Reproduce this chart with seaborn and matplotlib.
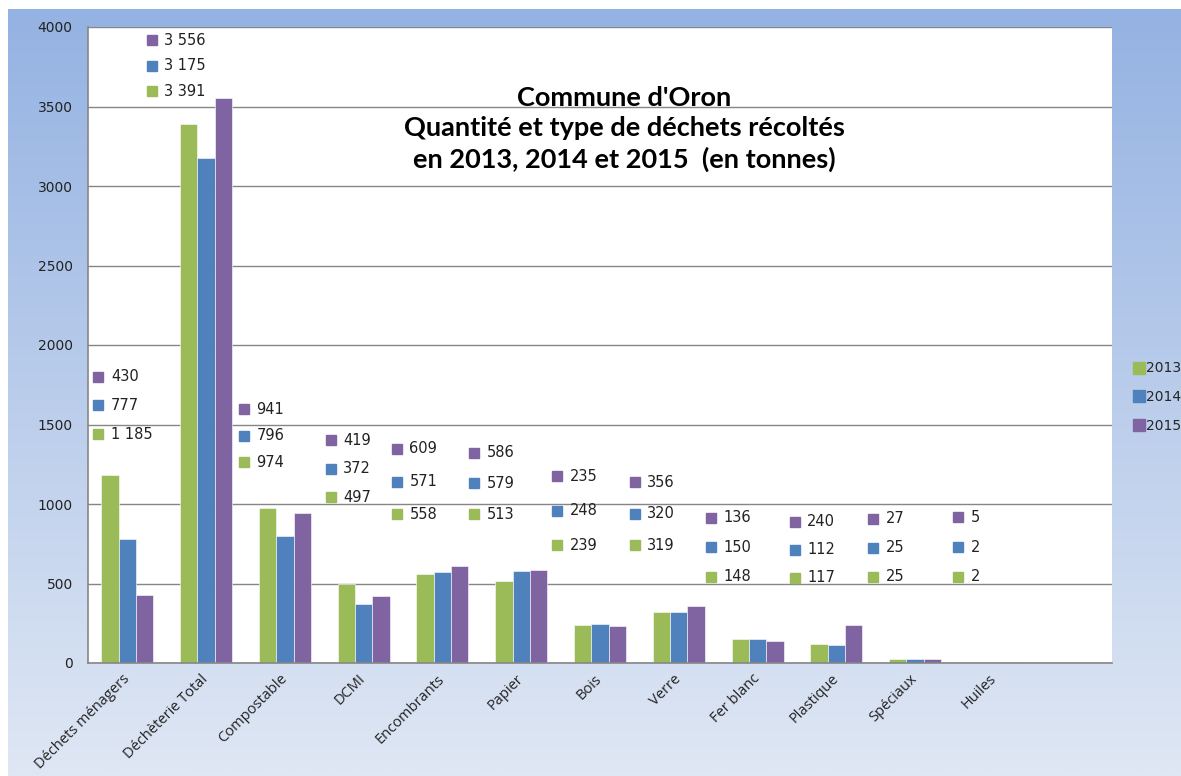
import numpy as np
import pandas as pd
import matplotlib.pyplot as plt
import seaborn as sns
from matplotlib.lines import Line2D

# waste collected per type, in tonnes
categories = ["Déchets ménagers", "Déchèterie Total", "Compostable", "DCMI", "Encombrants",
              "Papier", "Bois", "Verre", "Fer blanc", "Plastique", "Spéciaux", "Huiles"]
years = ["2013", "2014", "2015"]
t2013 = [1185, 3391, 974, 497, 558, 513, 239, 319, 148, 117, 25, 2]
t2014 = [777, 3175, 796, 372, 571, 579, 248, 320, 150, 112, 25, 2]
t2015 = [430, 3556, 941, 419, 609, 586, 235, 356, 136, 240, 27, 5]
yticks = [0, 500, 1000, 1500, 2000, 2500, 3000, 3500, 4000]

# where the value boxes sit (they were moved by hand in the original)
label_dx = [-0.37, -0.69, -0.52, -0.42, -0.58, -0.60, -0.54, -0.56, -0.59, -0.53, -0.53, -0.45]
label_top = [1799, 3918, 1597, 1402, 1346, 1321, 1176, 1138, 912, 887, 906, 918]
label_bottom = [1440, 3597, 1264, 1044, 937, 937, 742, 742, 541, 535, 541, 541]

colors = {"2013": "#9bbb59", "2014": "#4f81bd", "2015": "#8064a2"}
grey = "#868686"

df = pd.DataFrame({
    "type": categories * 3,
    "year": np.repeat(years, len(categories)),
    "tonnes": t2013 + t2014 + t2015,
})

sns.set_style("white")
plt.rcParams["font.family"] = ["DejaVu Sans"]

fig = plt.figure(figsize=(11.81, 7.76), dpi=100)

# blue gradient background
bg = fig.add_axes([8 / 1181, 0, 1 - 8 / 1181, 1 - 9 / 776], zorder=-1)
top_c = np.array([148, 178, 226]) / 255
bot_c = np.array([223, 231, 244]) / 255
t = np.linspace(0, 1, 256)[:, None]
grad = top_c[None, :] * (1 - t) + bot_c[None, :] * t
bg.imshow(grad[:, None, :], aspect="auto", extent=[0, 1, 0, 1])
bg.axis("off")

ax = fig.add_axes([88 / 1181, 1 - 663 / 776, (1112 - 88) / 1181, (663 - 27) / 776])
ax.set_facecolor("white")
sns.barplot(data=df, x="type", y="tonnes", hue="year", order=categories + [""],
            hue_order=years, palette=colors, saturation=1, width=0.66,
            edgecolor="white", linewidth=0.4, ax=ax)
ax.get_legend().remove()

ax.set_ylim(0, 4000)
ax.set_xlim(-0.5, 12.5)
ax.set_yticks(yticks)
ax.set_yticklabels([str(v) for v in yticks], fontsize=10, color="#222222")
ax.yaxis.grid(True, color=grey, linewidth=1)
ax.set_axisbelow(True)
ax.set_xlabel("")
ax.set_ylabel("")

ax.set_xticks(range(13))
ax.set_xticklabels(categories + [""], rotation=45, ha="right", va="center",
                   rotation_mode="anchor", fontsize=10.5, color="#222222",
                   family=["Open Sans", "DejaVu Sans"])
ax.set_xticks(np.arange(-0.5, 13, 1), minor=True)
ax.tick_params(axis="x", which="major", length=0, pad=10)
ax.tick_params(axis="x", which="minor", length=5, color=grey, direction="out")
ax.tick_params(axis="y", length=5, color=grey, direction="out", pad=6)
for side in ["top", "right"]:
    ax.spines[side].set_visible(False)
for side in ["left", "bottom"]:
    ax.spines[side].set_color(grey)
    ax.spines[side].set_linewidth(1.2)

# value boxes: 2015 on top, 2013 at the bottom
series = [t2013, t2014, t2015]
for i in range(len(categories)):
    for j, yr in enumerate(years):
        y = label_bottom[i] + (label_top[i] - label_bottom[i]) * j / 2
        x = i + label_dx[i]
        ax.plot(x, y, marker="s", markersize=6.5, color=colors[yr], linestyle="none",
                clip_on=False, zorder=5)
        txt = f"{series[j][i]:,}".replace(",", " ")
        ax.text(x + 0.16, y, txt, va="center", ha="left", fontsize=10.5,
                color="#222222", zorder=5)

fig.text(624 / 1181, 1 - 129 / 776,
         "Commune d'Oron\nQuantité et type de déchets récoltés\nen 2013, 2014 et 2015  (en tonnes)",
         ha="center", va="center", fontsize=19.5, fontweight="bold", linespacing=1.33,
         family=["Lato", "DejaVu Sans"], color="black")

handles = [Line2D([0], [0], marker="s", color=colors[y], linestyle="none", markersize=8)
           for y in years]
fig.legend(handles, years, loc="center left", bbox_to_anchor=(1128 / 1181, 1 - 397 / 776),
           frameon=False, fontsize=10, handletextpad=0.1, labelspacing=1.05,
           handlelength=0.8, borderaxespad=0)

fig.savefig("out.png", dpi=100)
